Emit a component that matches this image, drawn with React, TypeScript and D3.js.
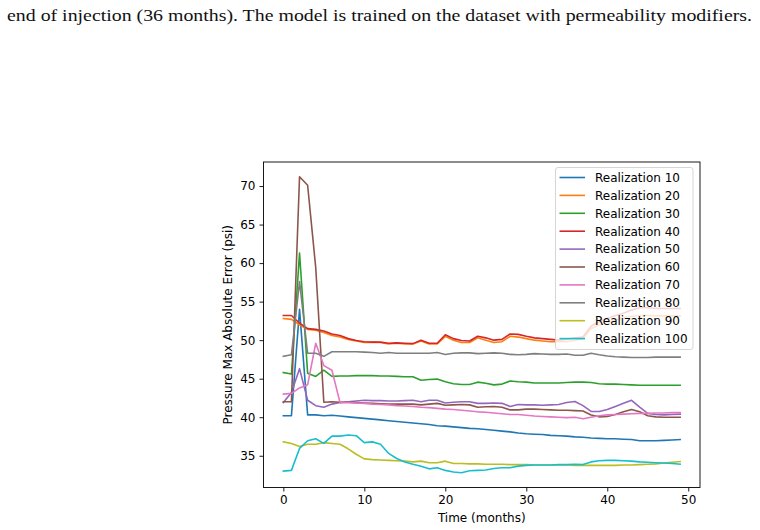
import React, { useEffect, useRef } from 'react';
import * as d3 from 'd3';

// Monthly max absolute pressure error for selected realizations
const months = d3.range(50);

const realizationNames = [
  'Realization 10', 'Realization 20', 'Realization 30', 'Realization 40', 'Realization 50',
  'Realization 60', 'Realization 70', 'Realization 80', 'Realization 90', 'Realization 100',
];

const colors = ['#1f77b4', '#ff7f0e', '#2ca02c', '#d62728', '#9467bd', '#8c564b', '#e377c2', '#7f7f7f', '#bcbd22', '#17becf'];

const r10 = [40.2, 40.2, 54.0, 40.3, 40.3, 40.2, 40.25, 40.15, 40.05, 39.95, 39.85, 39.75, 39.65, 39.55, 39.45, 39.35, 39.25, 39.15, 39.05, 38.9, 38.85, 38.75, 38.65, 38.55, 38.5, 38.4, 38.3, 38.2, 38.1, 37.95, 37.85, 37.8, 37.75, 37.65, 37.6, 37.55, 37.45, 37.4, 37.3, 37.25, 37.2, 37.2, 37.15, 37.1, 36.95, 36.95, 36.95, 37.0, 37.05, 37.1];
const r20 = [52.8, 52.7, 52.0, 51.4, 51.3, 51.0, 50.6, 50.4, 50.1, 49.9, 49.7, 49.75, 49.7, 49.5, 49.6, 49.5, 49.5, 49.9, 49.5, 49.5, 50.5, 50.0, 49.7, 49.7, 50.3, 50.0, 49.7, 49.8, 50.5, 50.4, 50.2, 50.0, 49.9, 49.8, 49.8, 49.8, 50.0, 50.2, 51.5, 52.0, 52.3, 52.6, 52.9, 53.1, 53.2, 53.2, 53.15, 53.15, 53.15, 53.15];
const r30 = [45.8, 45.6, 61.3, 45.7, 45.3, 46.1, 45.3, 45.35, 45.35, 45.4, 45.4, 45.4, 45.35, 45.35, 45.3, 45.25, 45.25, 44.8, 44.9, 44.95, 44.6, 44.35, 44.25, 44.25, 44.55, 44.4, 44.2, 44.3, 44.7, 44.6, 44.55, 44.45, 44.45, 44.45, 44.45, 44.5, 44.55, 44.55, 44.5, 44.35, 44.3, 44.3, 44.25, 44.2, 44.15, 44.15, 44.15, 44.15, 44.15, 44.15];
const r40 = [53.2, 53.2, 52.2, 51.5, 51.4, 51.2, 50.8, 50.6, 50.2, 49.95, 49.8, 49.75, 49.75, 49.6, 49.65, 49.6, 49.55, 50.0, 49.6, 49.6, 50.7, 50.2, 49.95, 49.9, 50.5, 50.3, 50.0, 50.1, 50.8, 50.75, 50.5, 50.3, 50.2, 50.1, 50.0, 50.1, 50.3, 50.4, 51.8, 52.4, 52.8, 53.2, 53.5, 53.9, 54.2, 54.2, 54.1, 54.1, 54.1, 54.1];
const r50 = [41.9, 43.2, 46.3, 42.2, 41.5, 41.3, 41.7, 41.9, 42.0, 42.1, 42.2, 42.15, 42.15, 42.1, 42.1, 42.15, 42.2, 42.0, 42.2, 42.2, 41.85, 41.95, 42.0, 42.0, 41.8, 41.8, 41.85, 41.8, 41.4, 41.65, 41.6, 41.6, 41.55, 41.6, 41.65, 41.9, 42.05, 41.5, 40.75, 40.75, 41.0, 41.4, 41.8, 42.2, 41.3, 40.5, 40.35, 40.3, 40.35, 40.4];
const r60 = [42.0, 42.0, 71.2, 70.1, 59.4, 41.95, 42.0, 41.95, 41.95, 41.9, 41.85, 41.8, 41.75, 41.7, 41.7, 41.7, 41.7, 41.6, 41.7, 41.8, 41.55, 41.6, 41.65, 41.6, 41.3, 41.35, 41.4, 41.3, 40.95, 40.95, 41.05, 41.05, 41.0, 40.95, 40.9, 40.9, 40.85, 40.8, 40.3, 40.05, 40.1, 40.35, 40.7, 41.0, 40.7, 40.2, 40.05, 40.0, 40.0, 40.0];
const r70 = [43.0, 43.1, 43.8, 44.2, 49.6, 46.7, 46.1, 41.9, 41.9, 41.85, 41.8, 41.7, 41.65, 41.6, 41.5, 41.45, 41.4, 41.3, 41.25, 41.15, 41.05, 41.0, 40.9, 40.8, 40.7, 40.65, 40.55, 40.45, 40.35, 40.35, 40.25, 40.15, 40.1, 40.05, 40.0, 39.95, 40.0, 39.8, 40.0, 40.2, 40.3, 40.35, 40.4, 40.45, 40.5, 40.5, 40.55, 40.55, 40.6, 40.6];
const r80 = [47.9, 48.1, 57.6, 48.3, 48.3, 47.9, 48.5, 48.5, 48.5, 48.5, 48.45, 48.4, 48.3, 48.4, 48.3, 48.3, 48.3, 48.3, 48.3, 48.4, 48.15, 48.3, 48.35, 48.35, 48.25, 48.3, 48.35, 48.3, 48.15, 48.1, 48.15, 48.25, 48.2, 48.15, 48.15, 48.2, 48.05, 48.05, 48.3, 48.1, 47.95, 47.85, 47.8, 47.75, 47.75, 47.75, 47.8, 47.8, 47.8, 47.8];
const r90 = [36.8, 36.6, 36.2, 36.5, 36.5, 36.7, 36.6, 36.5, 35.9, 35.2, 34.6, 34.5, 34.45, 34.4, 34.35, 34.3, 34.2, 34.3, 34.1, 34.1, 34.3, 34.0, 34.0, 33.95, 33.95, 33.9, 33.9, 33.9, 33.85, 33.85, 33.85, 33.8, 33.8, 33.8, 33.8, 33.8, 33.75, 33.75, 33.75, 33.75, 33.75, 33.75, 33.8, 33.8, 33.85, 33.9, 33.95, 34.05, 34.15, 34.25];
const r100 = [33.0, 33.1, 35.95, 36.95, 37.2, 36.6, 37.55, 37.55, 37.7, 37.6, 36.7, 36.8, 36.5, 35.3, 34.65, 34.2, 33.9, 33.65, 33.3, 33.45, 33.1, 32.9, 32.8, 33.05, 33.1, 33.15, 33.35, 33.45, 33.45, 33.65, 33.75, 33.8, 33.8, 33.8, 33.85, 33.85, 33.9, 33.85, 34.2, 34.35, 34.4, 34.4, 34.35, 34.3, 34.2, 34.15, 34.1, 34.05, 34.0, 33.9];

const seriesValues = [r10, r20, r30, r40, r50, r60, r70, r80, r90, r100];

const yTicks = [35, 40, 45, 50, 55, 60, 65, 70];
const xTicks = [0, 10, 20, 30, 40, 50];

const captionText = 'end of injection (36 months). The model is trained on the dataset with permeability modifiers.';

const App = () => {
  const svgRef = useRef<SVGSVGElement | null>(null);

  useEffect(() => {
    if (!svgRef.current) return;
    const root = d3.select(svgRef.current);
    root.selectAll('*').remove();

    const left = 263.5, right = 700, top = 162, bottom = 487.5;
    const font = '"DejaVu Sans", sans-serif';

    // Caption line from the surrounding document
    root.append('text')
      .attr('x', 7)
      .attr('y', 21)
      .attr('font-family', 'Liberation Serif')
      .attr('font-size', 17)
      .attr('fill', '#111')
      .attr('textLength', 745)
      .attr('lengthAdjust', 'spacingAndGlyphs')
      .text(captionText);

    // Scales with matplotlib-style 5% padding
    const allValues = seriesValues.flat();
    const yMin = d3.min(allValues) as number;
    const yMax = d3.max(allValues) as number;
    const yPad = (yMax - yMin) * 0.05;
    const x = d3.scaleLinear().domain([-2.45, 51.45]).range([left, right]);
    const y = d3.scaleLinear().domain([yMin - yPad, yMax + yPad]).range([bottom, top]);

    const plot = root.append('g');

    // Lines
    const line = d3.line<number>()
      .x((_, i) => x(months[i]))
      .y(d => y(d));

    seriesValues.forEach((vals, i) => {
      plot.append('path')
        .datum(vals)
        .attr('d', line)
        .attr('fill', 'none')
        .attr('stroke', colors[i])
        .attr('stroke-width', 1.6)
        .attr('stroke-linejoin', 'round')
        .attr('stroke-linecap', 'square');
    });

    // Axes
    const xAxis = root.append('g')
      .attr('transform', `translate(0,${bottom})`)
      .call(d3.axisBottom(x).tickValues(xTicks).tickSize(4).tickPadding(4).tickFormat(d3.format('d')) as any);
    xAxis.select('.domain').remove();
    xAxis.selectAll('text').attr('font-size', 12).attr('font-family', font).attr('fill', '#000');
    xAxis.selectAll('line').attr('stroke', '#000').attr('stroke-width', 0.9);

    const yAxis = root.append('g')
      .attr('transform', `translate(${left},0)`)
      .call(d3.axisLeft(y).tickValues(yTicks).tickSize(4).tickPadding(4).tickFormat(d3.format('d')) as any);
    yAxis.select('.domain').remove();
    yAxis.selectAll('text').attr('font-size', 12).attr('font-family', font).attr('fill', '#000');
    yAxis.selectAll('line').attr('stroke', '#000').attr('stroke-width', 0.9);

    // Frame
    root.append('rect')
      .attr('x', left)
      .attr('y', top)
      .attr('width', right - left)
      .attr('height', bottom - top)
      .attr('fill', 'none')
      .attr('stroke', '#000')
      .attr('stroke-width', 0.9);

    // Axis titles
    root.append('text')
      .attr('x', (left + right) / 2)
      .attr('y', 522)
      .attr('text-anchor', 'middle')
      .attr('font-size', 12)
      .attr('font-family', font)
      .text('Time (months)');

    root.append('text')
      .attr('transform', `translate(232,${(top + bottom) / 2}) rotate(-90)`)
      .attr('text-anchor', 'middle')
      .attr('font-size', 12)
      .attr('font-family', font)
      .text('Pressure Max Absolute Error (psi)');

    // Legend
    const legend = root.append('g');
    legend.append('rect')
      .attr('x', 555.5)
      .attr('y', 167.5)
      .attr('width', 137.5)
      .attr('height', 182)
      .attr('rx', 2.5)
      .attr('fill', 'rgba(255,255,255,0.8)')
      .attr('stroke', '#d0d0d0')
      .attr('stroke-width', 0.9);

    realizationNames.forEach((name, i) => {
      const cy = 177.5 + i * 17.9;
      legend.append('line')
        .attr('x1', 559.5)
        .attr('x2', 585)
        .attr('y1', cy)
        .attr('y2', cy)
        .attr('stroke', colors[i])
        .attr('stroke-width', 1.6);
      legend.append('text')
        .attr('x', 595)
        .attr('y', cy + 4.3)
        .attr('font-size', 12)
        .attr('font-family', font)
        .attr('fill', '#000')
        .text(name);
    });
  }, []);

  return (
    <svg
      ref={svgRef}
      width={760}
      height={530}
      style={{ position: 'absolute', left: 0, top: 0, background: '#fff' }}
    />
  );
};

export default App;
